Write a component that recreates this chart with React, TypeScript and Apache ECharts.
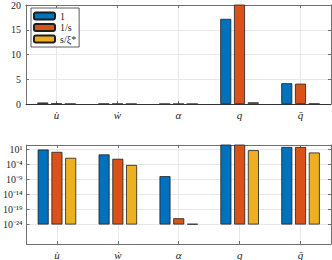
import React, { useEffect, useRef } from "react";
import * as echarts from "echarts";

const categories = ["u\u0307", "\u1E87", "\u03B1", "q", "q\u0304"];
const seriesNames = ["1", "1/s", "s/\u03BE*"];

// top panel (linear)
const linOne = [0.3, 0.03, 0.01, 17.2, 4.2];
const linInvS = [0.08, 0.02, 0, 21.5, 4.1];
const linSXi = [0.02, 0.01, 0, 0.35, 0.05];
const linTicks = [0, 5, 10, 15, 20];

// bottom panel (log)
const logOne = [10, 0.23, 1.3e-8, 600, 72];
const logInvS = [1.6, 0.008, 1.2e-22, 800, 70];
const logSXi = [0.017, 7e-5, 1.6e-24, 6, 1];
const logTicks = [1e1, 1e-4, 1e-9, 1e-14, 1e-19, 1e-24];
const logMin = Math.pow(10, -30.5);
const logMax = Math.pow(10, 2.5);
const logBase = 1e-24;

const colors = ["#0072BD", "#D95319", "#EDB120"];
const FONT = "Liberation Serif";
const axisColor = "#707070";
const gridColor = "#e8e8e8";
const textColor = "#262626";

const SUP: Record<string, string> = {
  "-": "\u207B", "0": "\u2070", "1": "\u00B9", "2": "\u00B2", "3": "\u00B3",
  "4": "\u2074", "5": "\u2075", "6": "\u2076", "7": "\u2077", "8": "\u2078", "9": "\u2079",
};
const sup = (n: number) => String(n).split("").map((c) => SUP[c] || c).join("");

export default function App() {
  const ref = useRef<HTMLDivElement>(null);
  useEffect(() => {
    if (!ref.current) return;
    const chart = echarts.init(ref.current, null, { renderer: "svg" });

    const xAxis = (gridIndex: number, position: string, main: boolean) => ({
      type: "category",
      data: categories,
      gridIndex,
      position,
      axisLine: { show: true, onZero: false, lineStyle: { color: axisColor, width: 1 } },
      axisTick: { show: true, inside: true, alignWithLabel: true, length: 3, lineStyle: { color: axisColor } },
      axisLabel: {
        show: main,
        margin: 5,
        fontFamily: FONT,
        fontStyle: "italic",
        fontSize: 11,
        color: textColor,
      },
      splitLine: { show: main, alignWithLabel: true, lineStyle: { color: gridColor, width: 1 } },
    });

    const linY = (gridIndex: number, position: string, main: boolean) => ({
      type: "value",
      gridIndex,
      position,
      min: 0,
      max: 20,
      interval: 5,
      axisLine: { show: true, lineStyle: { color: axisColor, width: 1 } },
      axisTick: { show: true, inside: true, length: 3, lineStyle: { color: axisColor } },
      axisLabel: { show: main, margin: 5, fontFamily: FONT, fontSize: 10, color: textColor },
      splitLine: { show: main, lineStyle: { color: gridColor, width: 1 } },
    });

    const logY = (gridIndex: number, position: string, main: boolean) => ({
      type: "log",
      logBase: 10,
      gridIndex,
      position,
      min: logMin,
      max: logMax,
      startValue: logBase,
      axisLine: { show: true, lineStyle: { color: axisColor, width: 1 } },
      axisTick: { show: true, inside: true, length: 3, customValues: logTicks, lineStyle: { color: axisColor } },
      axisLabel: {
        show: main,
        margin: 4,
        customValues: logTicks,
        fontFamily: FONT,
        fontSize: 10,
        color: textColor,
        formatter: (v: number) => "10" + sup(Math.round(Math.log10(v))),
      },
      splitLine: { show: main, lineStyle: { color: gridColor, width: 1 } },
    });

    const bar = (name: string, data: number[], i: number, xi: number, yi: number, extra: any = {}) => ({
      name,
      type: "bar",
      data,
      xAxisIndex: xi,
      yAxisIndex: yi,
      barWidth: 11,
      barGap: "25%",
      itemStyle: { color: colors[i], borderColor: "#1f1f1f", borderWidth: 0.8 },
      emphasis: { disabled: true },
      ...extra,
    });

    const baseline = (y: number) => ({
      markLine: {
        silent: true,
        symbol: "none",
        label: { show: false },
        lineStyle: { color: "#333", width: 1, type: "solid" },
        data: [{ yAxis: y }],
      },
    });

    chart.setOption({
      animation: false,
      grid: [
        { left: 26, top: 4, width: 305, height: 100 },
        { left: 26, top: 145, width: 305, height: 100 },
      ],
      legend: {
        data: seriesNames,
        orient: "vertical",
        left: 31,
        top: 8,
        itemWidth: 21,
        itemHeight: 7,
        itemGap: 1.5,
        padding: [3, 3, 3, 2],
        borderColor: "#333",
        borderWidth: 0.8,
        backgroundColor: "#fff",
        textStyle: { fontFamily: FONT, fontSize: 10, lineHeight: 9, color: textColor },
      },
      xAxis: [xAxis(0, "bottom", true), xAxis(0, "top", false), xAxis(1, "bottom", true), xAxis(1, "top", false)],
      yAxis: [linY(0, "left", true), linY(0, "right", false), logY(1, "left", true), logY(1, "right", false)],
      series: [
        bar(seriesNames[0], linOne, 0, 0, 0, baseline(0)),
        bar(seriesNames[1], linInvS, 1, 0, 0),
        bar(seriesNames[2], linSXi, 2, 0, 0),
        bar(seriesNames[0], logOne, 0, 2, 2, baseline(logBase)),
        bar(seriesNames[1], logInvS, 1, 2, 2),
        bar(seriesNames[2], logSXi, 2, 2, 2),
      ],
    });
    return () => chart.dispose();
  }, []);

  return <div ref={ref} style={{ width: 332, height: 260, position: "absolute", left: 0, top: 0 }} />;
}
